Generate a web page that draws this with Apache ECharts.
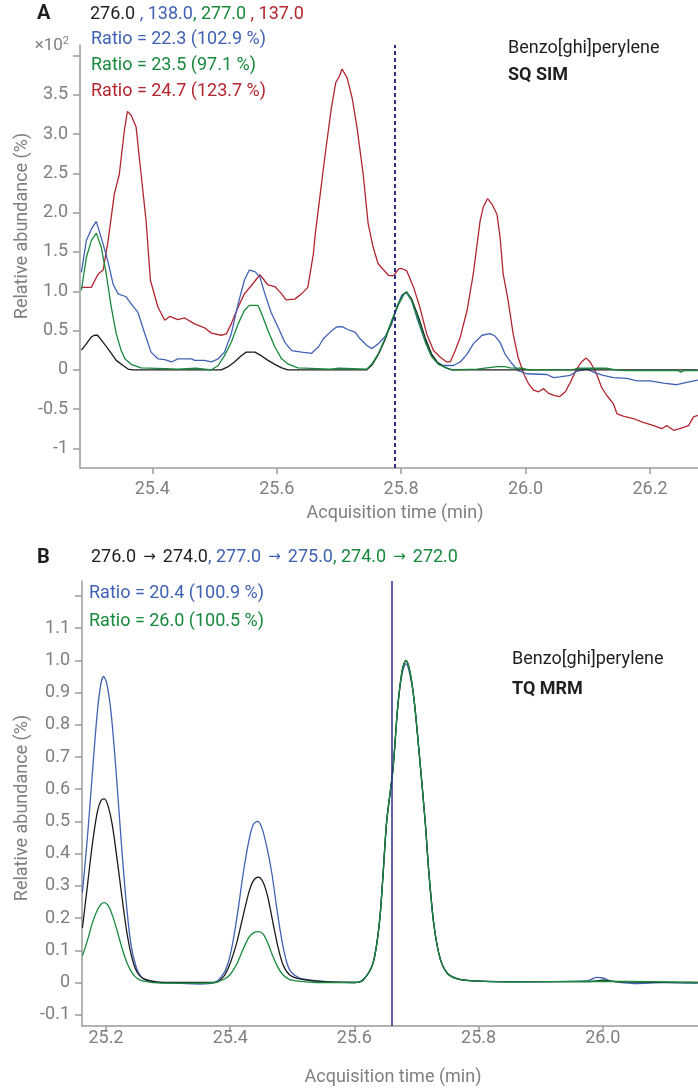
<!DOCTYPE html>
<html>
<head>
<meta charset="utf-8">
<script src="https://cdn.jsdelivr.net/npm/echarts@6/dist/echarts.min.js"></script>
<style>
html, body { margin: 0; padding: 0; background: #fff; }
#main { width: 698px; height: 1090px; }
</style>
</head>
<body>
<div id="main"></div>
<script>
// ---- panel A: SQ SIM, [time (min), relative abundance x10^2]
var simBlack = [[25.286,0.25],[25.294,0.33],[25.302,0.42],[25.307,0.44],[25.312,0.44],[25.321,0.35],[25.331,0.245],[25.342,0.12],[25.353,0.055],[25.361,0.01],[25.369,0],[25.511,0],[25.522,0.04],[25.532,0.10],[25.543,0.18],[25.551,0.225],[25.565,0.225],[25.575,0.18],[25.586,0.12],[25.597,0.07],[25.608,0.025],[25.618,0],[25.745,0],[25.753,0.06],[25.763,0.19],[25.774,0.38],[25.785,0.62],[25.796,0.84],[25.804,0.96],[25.809,0.99],[25.817,0.9],[25.828,0.67],[25.839,0.40],[25.849,0.2],[25.860,0.08],[25.873,0.02],[25.882,0],[26.277,0]];
var simBlue = [[25.286,1.24],[25.294,1.645],[25.302,1.79],[25.310,1.89],[25.313,1.81],[25.321,1.60],[25.329,1.37],[25.337,1.09],[25.345,0.967],[25.358,0.93],[25.366,0.84],[25.377,0.73],[25.388,0.46],[25.398,0.225],[25.409,0.14],[25.420,0.13],[25.431,0.10],[25.441,0.14],[25.463,0.14],[25.468,0.12],[25.484,0.12],[25.495,0.10],[25.506,0.14],[25.516,0.225],[25.527,0.46],[25.538,0.84],[25.548,1.14],[25.556,1.27],[25.565,1.25],[25.573,1.18],[25.581,0.967],[25.591,0.73],[25.602,0.545],[25.613,0.35],[25.624,0.245],[25.640,0.225],[25.656,0.21],[25.667,0.29],[25.675,0.395],[25.686,0.48],[25.696,0.545],[25.705,0.55],[25.715,0.51],[25.726,0.48],[25.734,0.395],[25.745,0.31],[25.753,0.27],[25.763,0.33],[25.774,0.42],[25.785,0.585],[25.793,0.80],[25.801,0.95],[25.808,0.99],[25.817,0.88],[25.825,0.67],[25.836,0.42],[25.847,0.20],[25.857,0.10],[25.868,0.055],[25.884,0.055],[25.895,0.10],[25.906,0.20],[25.916,0.33],[25.930,0.44],[25.943,0.46],[25.951,0.43],[25.959,0.35],[25.967,0.20],[25.978,0.08],[25.988,-0.01],[26.002,-0.05],[26.034,-0.06],[26.045,-0.10],[26.055,-0.09],[26.072,-0.07],[26.082,-0.02],[26.098,0.01],[26.112,-0.04],[26.125,-0.07],[26.141,-0.10],[26.163,-0.11],[26.179,-0.14],[26.200,-0.14],[26.222,-0.17],[26.243,-0.19],[26.259,-0.16],[26.277,-0.13]];
var simGreen = [[25.286,1.01],[25.294,1.43],[25.302,1.645],[25.310,1.74],[25.318,1.56],[25.326,1.22],[25.334,0.80],[25.342,0.46],[25.350,0.245],[25.356,0.14],[25.366,0.07],[25.382,0.025],[25.420,0.015],[25.441,0.01],[25.470,0.02],[25.495,0],[25.506,0.055],[25.516,0.18],[25.527,0.35],[25.538,0.585],[25.548,0.755],[25.556,0.82],[25.570,0.82],[25.575,0.73],[25.586,0.50],[25.597,0.29],[25.608,0.14],[25.618,0.075],[25.634,0.025],[25.686,0.01],[25.700,0.02],[25.745,0.01],[25.753,0.075],[25.763,0.20],[25.774,0.395],[25.785,0.63],[25.796,0.84],[25.804,0.96],[25.809,0.99],[25.817,0.88],[25.828,0.63],[25.839,0.35],[25.849,0.17],[25.860,0.07],[25.873,0.025],[25.881,0],[25.922,0.01],[25.938,0.025],[25.955,0.04],[25.967,0.04],[25.975,0.025],[25.995,0.02],[26.005,0],[26.075,0],[26.085,0.02],[26.13,0.02],[26.145,0],[26.16,-0.01],[26.245,-0.01],[26.25,-0.03],[26.255,-0.01],[26.277,-0.01]];
var simRed = [[25.286,1.05],[25.302,1.05],[25.313,1.22],[25.321,1.27],[25.329,1.645],[25.339,2.24],[25.347,2.49],[25.355,3.04],[25.360,3.29],[25.366,3.24],[25.374,3.09],[25.382,2.49],[25.390,1.90],[25.397,1.14],[25.409,0.80],[25.420,0.63],[25.428,0.68],[25.441,0.64],[25.452,0.66],[25.468,0.585],[25.484,0.535],[25.495,0.467],[25.511,0.44],[25.519,0.457],[25.527,0.585],[25.538,0.80],[25.548,0.967],[25.559,1.07],[25.573,1.21],[25.586,1.08],[25.597,1.06],[25.608,0.967],[25.615,0.89],[25.629,0.90],[25.640,0.967],[25.650,1.05],[25.659,1.48],[25.662,1.73],[25.670,2.24],[25.678,2.75],[25.688,3.34],[25.695,3.66],[25.701,3.74],[25.705,3.83],[25.707,3.85],[25.713,3.72],[25.721,3.47],[25.729,3.09],[25.739,2.49],[25.747,1.86],[25.755,1.56],[25.763,1.35],[25.772,1.27],[25.780,1.20],[25.788,1.20],[25.796,1.285],[25.801,1.29],[25.809,1.26],[25.820,1.05],[25.830,0.80],[25.841,0.46],[25.852,0.245],[25.863,0.16],[25.873,0.10],[25.879,0.10],[25.887,0.245],[25.895,0.415],[25.906,0.755],[25.916,1.22],[25.927,1.90],[25.932,2.07],[25.939,2.18],[25.946,2.11],[25.954,1.98],[25.959,1.69],[25.964,1.22],[25.972,0.88],[25.980,0.46],[25.988,0.16],[25.997,-0.05],[26.005,-0.18],[26.013,-0.26],[26.021,-0.28],[26.029,-0.24],[26.037,-0.30],[26.047,-0.33],[26.055,-0.34],[26.064,-0.28],[26.072,-0.16],[26.082,0.01],[26.090,0.10],[26.097,0.15],[26.104,0.10],[26.114,-0.05],[26.122,-0.22],[26.131,-0.33],[26.141,-0.43],[26.147,-0.56],[26.157,-0.59],[26.173,-0.62],[26.189,-0.67],[26.206,-0.71],[26.219,-0.75],[26.227,-0.71],[26.238,-0.77],[26.248,-0.75],[26.262,-0.71],[26.270,-0.60],[26.277,-0.58]];
var simMarker = 25.789;
var simYTicks = [4, 3.5, 3, 2.5, 2, 1.5, 1, 0.5, 0, -0.5, -1];
var simYLabels = [3.5, 3, 2.5, 2, 1.5, 1, 0.5, 0, -0.5, -1];
var simXTicks = [25.4, 25.6, 25.8, 26.0, 26.2];

// ---- panel B: TQ MRM, [time (min), relative abundance]
var mrmBlack = [[25.162,0.17],[25.170,0.30],[25.178,0.43],[25.186,0.53],[25.192,0.565],[25.197,0.57],[25.203,0.55],[25.210,0.49],[25.218,0.38],[25.226,0.26],[25.234,0.15],[25.242,0.075],[25.250,0.032],[25.260,0.012],[25.275,0.004],[25.290,0],[25.375,0],[25.390,0.02],[25.400,0.06],[25.410,0.12],[25.420,0.20],[25.430,0.28],[25.437,0.315],[25.445,0.327],[25.452,0.315],[25.460,0.27],[25.469,0.184],[25.477,0.11],[25.485,0.055],[25.495,0.025],[25.510,0.012],[25.540,0.004],[25.600,0],[25.614,0.008],[25.630,0.06],[25.640,0.18],[25.646,0.33],[25.652,0.50],[25.662,0.66],[25.670,0.86],[25.677,0.97],[25.683,1.0],[25.689,0.97],[25.696,0.88],[25.704,0.72],[25.714,0.50],[25.720,0.34],[25.728,0.18],[25.738,0.075],[25.750,0.028],[25.765,0.012],[25.785,0.006],[25.850,0.003],[25.980,0.003],[26.000,0.007],[26.020,0.003],[26.153,0]];
var mrmBlue = [[25.162,0.28],[25.170,0.45],[25.178,0.65],[25.186,0.84],[25.192,0.93],[25.196,0.95],[25.201,0.93],[25.208,0.84],[25.216,0.66],[25.224,0.45],[25.232,0.26],[25.240,0.12],[25.249,0.045],[25.258,0.015],[25.270,0.004],[25.290,0],[25.350,-0.005],[25.375,0],[25.390,0.03],[25.398,0.07],[25.405,0.133],[25.413,0.23],[25.421,0.34],[25.430,0.44],[25.437,0.49],[25.444,0.50],[25.451,0.48],[25.459,0.42],[25.467,0.34],[25.475,0.23],[25.483,0.133],[25.490,0.07],[25.497,0.035],[25.510,0.015],[25.530,0.007],[25.560,0.002],[25.600,0],[25.614,0.008],[25.630,0.06],[25.640,0.18],[25.646,0.33],[25.652,0.50],[25.662,0.66],[25.670,0.86],[25.677,0.96],[25.683,0.99],[25.689,0.96],[25.696,0.88],[25.704,0.72],[25.714,0.50],[25.720,0.34],[25.728,0.18],[25.738,0.075],[25.750,0.028],[25.765,0.012],[25.785,0.006],[25.850,0.002],[25.975,0.005],[25.990,0.016],[26.000,0.014],[26.015,0.004],[26.050,-0.003],[26.100,0],[26.153,-0.002]];
var mrmGreen = [[25.162,0.083],[25.170,0.13],[25.178,0.185],[25.186,0.225],[25.192,0.243],[25.197,0.248],[25.203,0.24],[25.210,0.21],[25.218,0.16],[25.226,0.105],[25.234,0.06],[25.242,0.03],[25.250,0.013],[25.260,0.004],[25.290,-0.002],[25.350,-0.002],[25.375,0],[25.390,0.01],[25.400,0.025],[25.410,0.055],[25.420,0.10],[25.430,0.14],[25.438,0.155],[25.446,0.158],[25.453,0.15],[25.460,0.125],[25.468,0.085],[25.476,0.05],[25.485,0.024],[25.495,0.01],[25.510,0.004],[25.540,0],[25.600,0],[25.614,0.008],[25.630,0.06],[25.640,0.18],[25.646,0.33],[25.652,0.50],[25.662,0.66],[25.670,0.86],[25.677,0.97],[25.683,1.0],[25.689,0.97],[25.696,0.88],[25.704,0.72],[25.714,0.50],[25.720,0.34],[25.728,0.18],[25.738,0.075],[25.750,0.028],[25.765,0.012],[25.785,0.006],[25.850,0.002],[25.990,0.004],[26.153,0]];
var mrmMarker = 25.662;
var mrmYTicks = [1.2, 1.1, 1.0, 0.9, 0.8, 0.7, 0.6, 0.5, 0.4, 0.3, 0.2, 0.1, 0, -0.1];
var mrmYLabels = [1.1, 1.0, 0.9, 0.8, 0.7, 0.6, 0.5, 0.4, 0.3, 0.2, 0.1, 0, -0.1];
var mrmXTicks = [25.2, 25.4, 25.6, 25.8, 26.0];

var FONT = 'Roboto, "Noto Sans", sans-serif';
var AXIS = '#9b9b9b';
var LABEL = '#7f7f7f';
var INK = '#1f1f1f';
var C_BLACK = '#1b1b1b', C_BLUE = '#4062b4', C_GREEN = '#17893c', C_RED = '#b3262e', C_NAVY = '#2d2f86';

function yLabel(v) {
    if (v === 0) return '0';
    if (v === -1) return '-1';
    return v.toFixed(1);
}

function valueX(idx, min, max, ticks, margin) {
    return {
        type: 'value', gridIndex: idx, min: min, max: max,
        axisLine: { show: true, onZero: false, lineStyle: { color: AXIS, width: 1.5 } },
        axisTick: { show: true, length: 6, customValues: ticks, lineStyle: { color: AXIS, width: 1.5 } },
        axisLabel: {
            customValues: ticks, margin: margin, color: LABEL, fontSize: 18, fontFamily: FONT,
            formatter: function (v) { return v.toFixed(1); }
        },
        splitLine: { show: false }
    };
}

function valueY(idx, min, max, ticks, labels) {
    return {
        type: 'value', gridIndex: idx, min: min, max: max,
        axisLine: { show: true, lineStyle: { color: AXIS, width: 1.5 } },
        axisTick: { show: true, length: 7, customValues: ticks, lineStyle: { color: AXIS, width: 1.5 } },
        axisLabel: { customValues: labels, margin: 12, color: LABEL, fontSize: 18, fontFamily: FONT, formatter: yLabel },
        splitLine: { show: false }
    };
}

function trace(data, color, idx, smooth) {
    return {
        type: 'line', xAxisIndex: idx, yAxisIndex: idx,
        data: data, symbol: 'none', smooth: smooth, silent: true,
        lineStyle: { color: color, width: 1.3 }
    };
}

function marker(x, idx, type, width) {
    return {
        type: 'line', xAxisIndex: idx, yAxisIndex: idx, data: [], silent: true,
        markLine: {
            symbol: 'none', silent: true, animation: false,
            label: { show: false },
            lineStyle: { color: C_NAVY, type: type, width: width },
            data: [{ xAxis: x }]
        }
    };
}

function txt(x, y, text, opts) {
    opts = opts || {};
    return {
        type: 'text', x: x, y: y, rotation: opts.rotation || 0,
        style: {
            text: text, fill: opts.color || INK,
            font: (opts.weight || 'normal') + ' ' + (opts.size || 18) + 'px ' + FONT,
            align: opts.align || 'left', verticalAlign: 'middle',
            rich: opts.rich
        }
    };
}

// header pieces, the comma takes the colour of the next trace
function arrow(c) {
    return { fill: c, fontSize: 15, fontFamily: '"DejaVu Sans", sans-serif', padding: [0, 7, 0, 7] };
}
var richColors = {
    k: { fill: INK, fontSize: 18, fontFamily: FONT },
    b: { fill: C_BLUE, fontSize: 18, fontFamily: FONT },
    g: { fill: C_GREEN, fontSize: 18, fontFamily: FONT },
    r: { fill: C_RED, fontSize: 18, fontFamily: FONT },
    ka: arrow(INK), ba: arrow(C_BLUE), ga: arrow(C_GREEN)
};

var option = {
    backgroundColor: '#fff',
    animation: false,
    grid: [
        { left: 80, top: 45, right: 0, height: 423 },
        { left: 82, top: 581, right: 0, height: 445 }
    ],
    xAxis: [
        valueX(0, 25.2838, 26.2772, simXTicks, 12),
        valueX(1, 25.1613, 26.1534, mrmXTicks, 3)
    ],
    yAxis: [
        valueY(0, -1.25, 4.135, simYTicks, simYLabels),
        valueY(1, -0.135, 1.2465, mrmYTicks, mrmYLabels)
    ],
    series: [
        trace(simRed, C_RED, 0, false),
        trace(simBlue, C_BLUE, 0, false),
        trace(simBlack, C_BLACK, 0, false),
        trace(simGreen, C_GREEN, 0, false),
        marker(simMarker, 0, [4, 3], 2),
        trace(mrmBlue, C_BLUE, 1, 0.3),
        trace(mrmBlack, C_BLACK, 1, 0.3),
        trace(mrmGreen, C_GREEN, 1, 0.3),
        marker(mrmMarker, 1, 'solid', 1.5)
    ],
    graphic: [
        // panel A texts
        txt(37, 14, 'A', { weight: 'bold', size: 20 }),
        txt(90, 14, '{k|276.0 }{b|, 138.0}{g|, 277.0 }{r|, 137.0}', { rich: richColors }),
        txt(91, 39, 'Ratio = 22.3 (102.9 %)', { color: C_BLUE }),
        txt(91, 65, 'Ratio = 23.5 (97.1 %)', { color: C_GREEN }),
        txt(91, 91, 'Ratio = 24.7 (123.7 %)', { color: C_RED }),
        txt(69, 46, '{a|×10}{s|2}', {
            color: LABEL, align: 'right',
            rich: { a: { fill: LABEL, fontSize: 17, fontFamily: FONT }, s: { fill: LABEL, fontSize: 11, fontFamily: FONT, padding: [0, 0, 9, 0] } }
        }),
        txt(508, 48, 'Benzo[ghi]perylene'),
        txt(508, 75, 'SQ SIM', { weight: 'bold' }),
        txt(22, 226, 'Relative abundance (%)', { color: LABEL, align: 'center', rotation: Math.PI / 2 }),
        txt(395, 513, 'Acquisition time (min)', { color: LABEL, align: 'center' }),
        // panel B texts
        txt(37, 558, 'B', { weight: 'bold', size: 20 }),
        txt(91, 557, '{k|276.0}{ka|→}{k|274.0}{b|, 277.0}{ba|→}{b|275.0}{g|, 274.0}{ga|→}{g|272.0}', { rich: richColors }),
        txt(89, 593, 'Ratio = 20.4 (100.9 %)', { color: C_BLUE }),
        txt(89, 621, 'Ratio = 26.0 (100.5 %)', { color: C_GREEN }),
        txt(512, 659, 'Benzo[ghi]perylene'),
        txt(512, 689, 'TQ MRM', { weight: 'bold' }),
        txt(22, 808, 'Relative abundance (%)', { color: LABEL, align: 'center', rotation: Math.PI / 2 }),
        txt(393, 1077, 'Acquisition time (min)', { color: LABEL, align: 'center' })
    ]
};

var myChart = echarts.init(document.getElementById('main'));
myChart.setOption(option);
</script>
</body>
</html>
